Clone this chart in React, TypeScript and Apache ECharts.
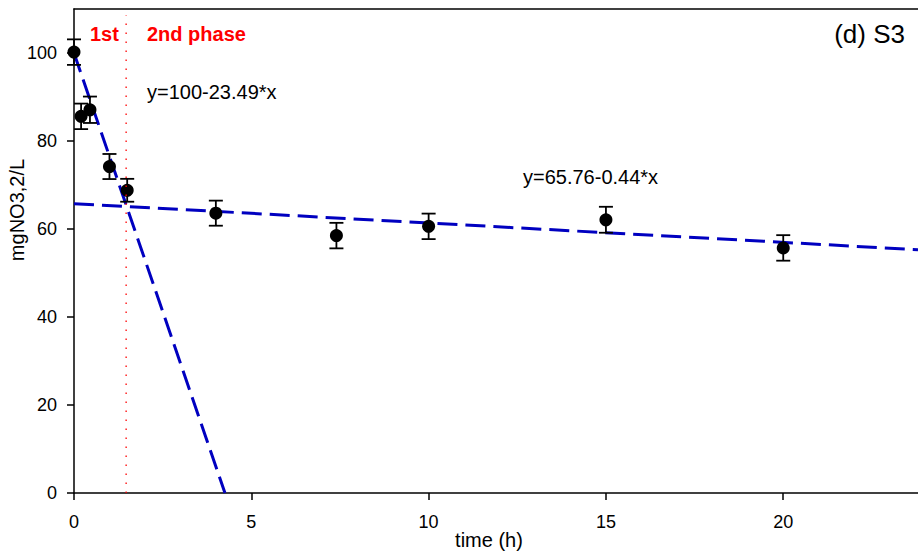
import React, { useEffect, useRef } from "react";
import * as echarts from "echarts";

const times = [0, 0.2, 0.45, 1.0, 1.5, 4, 7.4, 10, 15, 20];
const conc = [100.2, 85.6, 87.1, 74.2, 68.8, 63.6, 58.5, 60.6, 62.1, 55.7];
const errs = [2.9, 2.9, 3.0, 2.85, 2.6, 2.85, 2.9, 2.9, 2.95, 2.9];

const fit1X = [0, 4.257];
const fit1Y = [100, 0];
const fit2X = [0, 23.8];
const fit2Y = [65.76, 55.29];

const phaseX = 1.47;
const phaseY = [0, 108.5];

const xTicks = [0, 5, 10, 15, 20];
const yTicks = [0, 20, 40, 60, 80, 100];

const FONT = "'Liberation Sans', Arial, Helvetica, sans-serif";

export default function App() {
  const ref = useRef<HTMLDivElement>(null);
  useEffect(() => {
    if (!ref.current) return;
    const chart = echarts.init(ref.current, null, { renderer: "svg" });
    const points = times.map((t, i) => [t, conc[i]]);
    const errData = times.map((t, i) => [t, conc[i] - errs[i], conc[i] + errs[i]]);
    chart.setOption({
      animation: false,
      backgroundColor: "#fff",
      grid: { left: 74, right: 0, top: 9, bottom: 60, containLabel: false },
      xAxis: [
        {
          type: "value",
          min: 0,
          max: 23.8,
          interval: 5,
          axisLine: { show: true, onZero: false, lineStyle: { color: "#000", width: 1.5 } },
          axisTick: { show: true, inside: false, length: 7, lineStyle: { color: "#000", width: 1.5 } },
          axisLabel: {
            color: "#000",
            fontSize: 18,
            fontFamily: FONT,
            margin: 20,
            showMaxLabel: false,
            formatter: (v: number) => (xTicks.includes(v) ? String(v) : ""),
          },
          splitLine: { show: false },
        },
        {
          type: "value",
          position: "top",
          min: 0,
          max: 23.8,
          axisLine: { show: true, onZero: false, lineStyle: { color: "#000", width: 1.5 } },
          axisTick: { show: false },
          axisLabel: { show: false },
          splitLine: { show: false },
        },
      ],
      yAxis: {
        type: "value",
        min: 0,
        max: 110,
        interval: 20,
        axisLine: { show: true, onZero: false, lineStyle: { color: "#000", width: 1.5 } },
        axisTick: { show: true, inside: false, length: 7, lineStyle: { color: "#000", width: 1.5 } },
        axisLabel: {
          color: "#000",
          fontSize: 18,
          fontFamily: FONT,
          margin: 17,
          showMaxLabel: false,
          formatter: (v: number) => (yTicks.includes(v) ? String(v) : ""),
        },
        splitLine: { show: false },
      },
      series: [
        {
          type: "line",
          data: fit1X.map((x, i) => [x, fit1Y[i]]),
          symbol: "none",
          lineStyle: { color: "#0000c0", width: 3, type: [20, 8] },
          z: 3,
        },
        {
          type: "line",
          data: fit2X.map((x, i) => [x, fit2Y[i]]),
          symbol: "none",
          lineStyle: { color: "#0000c0", width: 3, type: [20, 8] },
          z: 3,
        },
        {
          type: "custom",
          data: errData,
          renderItem: (params: any, api: any) => {
            const x = api.value(0);
            const lo = api.coord([x, api.value(1)]);
            const hi = api.coord([x, api.value(2)]);
            const hw = 7;
            const st = { stroke: "#000", lineWidth: 1.8 };
            return {
              type: "group",
              children: [
                { type: "line", shape: { x1: lo[0], y1: lo[1], x2: hi[0], y2: hi[1] }, style: st },
                { type: "line", shape: { x1: lo[0] - hw, y1: lo[1], x2: lo[0] + hw, y2: lo[1] }, style: st },
                { type: "line", shape: { x1: hi[0] - hw, y1: hi[1], x2: hi[0] + hw, y2: hi[1] }, style: st },
              ],
            };
          },
          z: 4,
        },
        {
          type: "scatter",
          data: points,
          symbol: "circle",
          symbolSize: 13,
          itemStyle: { color: "#000", opacity: 1 },
          z: 5,
        },
        {
          type: "line",
          data: phaseY.map((y) => [phaseX, y]),
          symbol: "none",
          lineStyle: { color: "#ff0000", width: 1.3, type: [1.5, 7.5] },
          z: 6,
        },
      ],
      graphic: [
        {
          type: "text",
          left: 90,
          top: 24,
          style: { text: "1st", fill: "#ff0000", font: `bold 20px ${FONT}` },
        },
        {
          type: "text",
          left: 147,
          top: 24,
          style: { text: "2nd phase", fill: "#ff0000", font: `bold 20px ${FONT}` },
        },
        {
          type: "text",
          left: 147,
          top: 82,
          style: { text: "y=100-23.49*x", fill: "#000", font: `20px ${FONT}` },
        },
        {
          type: "text",
          left: 523,
          top: 167,
          style: { text: "y=65.76-0.44*x", fill: "#000", font: `20px ${FONT}` },
        },
        {
          type: "text",
          right: 13,
          top: 21,
          style: { text: "(d) S3", fill: "#000", font: `26px ${FONT}` },
        },
        {
          type: "text",
          x: 489,
          y: 540,
          style: {
            text: "time (h)",
            fill: "#000",
            font: `20px ${FONT}`,
            textAlign: "center",
            textVerticalAlign: "middle",
          },
        },
        {
          type: "text",
          x: 17,
          y: 210,
          rotation: Math.PI / 2,
          style: {
            text: "mgNO3,2/L",
            fill: "#000",
            font: `20px ${FONT}`,
            textAlign: "center",
            textVerticalAlign: "middle",
          },
        },
      ],
    });
    return () => chart.dispose();
  }, []);
  return <div ref={ref} style={{ width: 918, height: 553, position: "absolute", left: 0, top: 0 }} />;
}
